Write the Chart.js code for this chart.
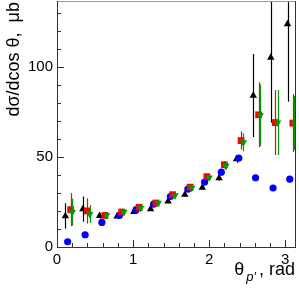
<!DOCTYPE html>
<html>
<head>
<meta charset="utf-8">
<script src="https://cdn.jsdelivr.net/npm/chart.js@4/dist/chart.umd.min.js"></script>
<style>
html,body{margin:0;padding:0;background:#fff;}
#wrap{width:299px;height:294px;position:relative;}
</style>
</head>
<body>
<div id="wrap"><canvas id="c" width="299" height="294"></canvas></div>
<script>
// ---- data ----
const thetaBlack = [0.11,0.34,0.56,0.79,1.01,1.23,1.46,1.68,1.91,2.13,2.36,2.58,2.81,3.03];
const valBlack   = [17.2,21.0,17.3,17.0,19.5,21.0,25.3,29.0,33.0,38.2,48.7,84.0,105.0,123.6];
const errBlack   = [7.0,7.0,1.5,1.0,1.0,1.0,1.0,1.0,1.0,1.5,2.0,23.0,36.0,43.0];

const thetaBlue  = [0.14,0.37,0.59,0.82,1.04,1.27,1.49,1.72,1.94,2.16,2.39,2.61,2.84,3.06];
const valBlue    = [2.9,6.8,13.6,17.5,20.7,23.8,28.0,32.1,36.0,41.5,49.3,38.4,32.7,37.6];

const thetaRed   = [0.18,0.40,0.63,0.85,1.08,1.30,1.52,1.75,1.97,2.20,2.42,2.65,2.87,3.10];
const valRed     = [20.7,20.0,17.5,19.4,22.0,24.4,29.0,33.2,39.0,45.6,59.0,73.3,69.0,68.7];
const errRed     = [9.2,7.0,2.0,1.5,1.5,1.5,1.5,1.5,1.5,2.0,5.0,18.0,18.0,16.0];

const thetaGreen = [0.20,0.43,0.65,0.88,1.10,1.33,1.55,1.77,2.00,2.22,2.45,2.67,2.90,3.12];
const valGreen   = [19.3,18.3,17.5,19.4,21.6,24.4,28.6,32.7,38.5,45.0,58.0,73.0,69.0,68.7];
const errGreen   = [7.5,5.0,1.5,1.5,1.5,1.5,1.5,1.5,1.5,2.0,5.0,17.0,18.0,15.0];

const xMajorTicks = [0,1,2,3];
const yMajorTicks = [0,50,100];
const xMinorStep = 0.2;
const yMinorStep = 10;
const xTitleMain = "θ";
const xTitleSub = "p′";
const xTitleRest = ", rad";
const yTitle = "dσ/dcos θ,  μb";

function pts(xs, ys, es){ return xs.map((x,i)=>({x:x, y:ys[i], e: es ? es[i] : 0})); }

const FONT = "'Liberation Sans', Arial, Helvetica, sans-serif";

const errPlugin = {
  id:'errbars',
  beforeDatasetDraw(chart, args){
    const ds = chart.data.datasets[args.index];
    if(!ds.errColor) return;
    const xs = chart.scales.x, ys = chart.scales.y, ca = chart.chartArea;
    const ctx = chart.ctx;
    ctx.save();
    ctx.beginPath();
    ctx.rect(ca.left, ca.top, ca.right-ca.left, ca.bottom-ca.top);
    ctx.clip();
    ctx.strokeStyle = ds.errColor;
    ctx.lineWidth = 1.2;
    ds.data.forEach(p=>{
      if(!p.e) return;
      const px = Math.round(xs.getPixelForValue(p.x))+0.5;
      ctx.beginPath();
      ctx.moveTo(px, ys.getPixelForValue(p.y+p.e));
      ctx.lineTo(px, ys.getPixelForValue(p.y-p.e));
      ctx.stroke();
    });
    ctx.restore();
  }
};

const framePlugin = {
  id:'frame',
  afterDraw(chart){
    const ctx = chart.ctx, ca = chart.chartArea, xs = chart.scales.x, ys = chart.scales.y;
    ctx.save();
    ctx.lineWidth = 1;
    ctx.strokeStyle = '#999';
    ctx.beginPath(); ctx.moveTo(ca.left, ca.top+0.5); ctx.lineTo(ca.right, ca.top+0.5); ctx.stroke();
    ctx.strokeStyle = '#333';
    ctx.beginPath(); ctx.moveTo(ca.right-0.5, ca.top); ctx.lineTo(ca.right-0.5, ca.bottom); ctx.stroke();
    ctx.beginPath(); ctx.moveTo(ca.left+0.5, ca.top); ctx.lineTo(ca.left+0.5, ca.bottom+0.5); ctx.lineTo(ca.right, ca.bottom+0.5); ctx.stroke();
    ctx.strokeStyle = '#333';
    for(let v=0; v<=xs.max+1e-9; v=Math.round((v+xMinorStep)*1000)/1000){
      const major = xMajorTicks.some(t=>Math.abs(t-v)<1e-6);
      const px = Math.round(xs.getPixelForValue(v))+0.5;
      ctx.beginPath(); ctx.moveTo(px, ca.bottom); ctx.lineTo(px, ca.bottom-(major?7:4)); ctx.stroke();
    }
    for(let v=0; v<=ys.max+1e-9; v+=yMinorStep){
      const major = yMajorTicks.some(t=>Math.abs(t-v)<1e-6);
      const py = Math.round(ys.getPixelForValue(v))+0.5;
      ctx.beginPath(); ctx.moveTo(ca.left, py); ctx.lineTo(ca.left+(major?7:4), py); ctx.stroke();
    }
    ctx.fillStyle = '#000';
    ctx.save();
    ctx.translate(14, 2);
    ctx.rotate(-Math.PI/2);
    ctx.font = "18px " + FONT;
    ctx.textAlign = 'right';
    ctx.textBaseline = 'middle';
    ctx.fillText(yTitle, 0, 0);
    ctx.restore();
    const mainFont = "18px " + FONT, subFont = "italic 13px " + FONT;
    ctx.font = mainFont; const wMain = ctx.measureText(xTitleMain).width; const wRest = ctx.measureText(xTitleRest).width;
    ctx.font = subFont; const wSub = ctx.measureText(xTitleSub).width;
    const right = ca.right, base = 275;
    const gap1 = 2, gap2 = 3;
    let x0 = right - wRest - gap2 - wSub - gap1 - wMain - 1;
    ctx.textAlign = 'left'; ctx.textBaseline = 'alphabetic';
    ctx.font = mainFont; ctx.fillText(xTitleMain, x0, base);
    ctx.font = subFont; ctx.fillText(xTitleSub, x0 + wMain + gap1, base + 6);
    ctx.font = mainFont; ctx.fillText(xTitleRest, x0 + wMain + gap1 + wSub + gap2, base);
    ctx.restore();
  }
};

new Chart(document.getElementById('c'), {
  type:'scatter',
  data:{
    datasets:[
      {label:'black', data:pts(thetaBlack,valBlack,errBlack), order:4, errColor:'#000',
        pointStyle:'triangle', pointRadius:4.3, backgroundColor:'#000', borderColor:'#000', borderWidth:0},
      {label:'blue', data:pts(thetaBlue,valBlue,null), order:3,
        pointStyle:'circle', pointRadius:3.6, backgroundColor:'#0000ff', borderColor:'#0000ff', borderWidth:0},
      {label:'red', data:pts(thetaRed,valRed,errRed), order:2, errColor:'#ff0000',
        pointStyle:'rect', pointRadius:4.8, backgroundColor:'#ff0000', borderColor:'#ff0000', borderWidth:0},
      {label:'green', data:pts(thetaGreen,valGreen,errGreen), order:1, errColor:'#009900',
        pointStyle:'triangle', rotation:180, pointRadius:4.3, backgroundColor:'#009900', borderColor:'#009900', borderWidth:0}
    ]
  },
  options:{
    responsive:false, animation:false, devicePixelRatio:1,
    layout:{autoPadding:false, padding:{left:0,right:3,top:1,bottom:0}},
    plugins:{legend:{display:false}, tooltip:{enabled:false}},
    elements:{point:{hoverRadius:0}},
    scales:{
      x:{type:'linear', min:0, max:Math.PI,
        grid:{display:false, drawTicks:false},
        border:{display:false},
        afterBuildTicks(s){ s.ticks = xMajorTicks.map(v=>({value:v})); },
        afterFit(s){ s.height = 47; s.paddingLeft = 0; s.paddingRight = 0; },
        ticks:{color:'#000', font:{family:FONT, size:15}, padding:4, maxRotation:0, autoSkip:false,
          callback:(v)=>String(v)}
      },
      y:{type:'linear', min:0, max:136.4,
        grid:{display:false, drawTicks:false},
        border:{display:false},
        afterBuildTicks(s){ s.ticks = yMajorTicks.map(v=>({value:v})); },
        afterFit(s){ s.width = 57; s.paddingTop = 0; s.paddingBottom = 0; },
        ticks:{color:'#000', font:{family:FONT, size:15}, padding:4, autoSkip:false,
          callback:(v)=>String(v)}
      }
    }
  },
  plugins:[errPlugin, framePlugin]
});
</script>
</body>
</html>
